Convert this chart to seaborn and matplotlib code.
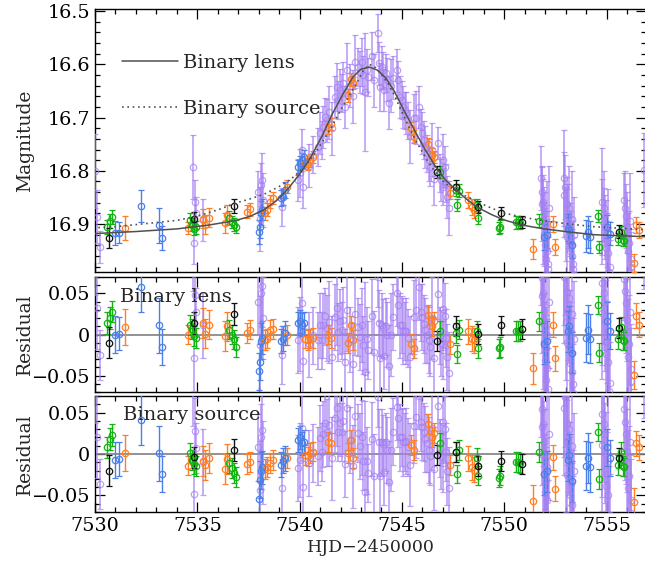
import matplotlib
matplotlib.use("Agg")
import matplotlib.pyplot as plt
import matplotlib.ticker as mticker
import seaborn as sns

# model curves
lens_t = [7529.9, 7532.0, 7534.02, 7535.53, 7536.79, 7537.55, 7538.26, 7538.87, 7539.47,
          7540.08, 7540.58, 7541.09, 7541.60, 7542.10, 7542.60, 7543.00, 7543.41, 7543.81,
          7544.22, 7544.62, 7545.12, 7545.63, 7546.13, 7546.64, 7547.14, 7547.65, 7548.15,
          7548.66, 7549.37, 7549.97, 7550.88, 7551.94, 7553.20, 7554.41, 7555.72, 7557.1]
lens_m = [16.918, 16.914, 16.909, 16.902, 16.894, 16.886, 16.873, 16.856, 16.832,
          16.802, 16.772, 16.735, 16.693, 16.657, 16.624, 16.609, 16.605, 16.611,
          16.626, 16.650, 16.688, 16.725, 16.760, 16.792, 16.818, 16.836, 16.853,
          16.868, 16.882, 16.892, 16.902, 16.909, 16.915, 16.920, 16.922, 16.924]

src_t = [7529.9, 7530.99, 7532.0, 7533.01, 7534.02, 7535.02, 7536.03, 7536.84, 7537.55,
         7538.26, 7539.07, 7539.57, 7540.08, 7540.38, 7540.79, 7541.19, 7541.60, 7542.00,
         7542.40, 7542.80, 7543.10, 7543.41, 7543.71, 7544.01, 7544.32, 7544.62, 7545.12,
         7545.63, 7546.23, 7546.64, 7547.04, 7547.45, 7547.85, 7548.66, 7549.37, 7549.97,
         7550.88, 7551.94, 7553.20, 7554.41, 7555.72, 7557.1]
src_m = [16.907, 16.905, 16.901, 16.897, 16.893, 16.885, 16.873, 16.861, 16.853,
         16.844, 16.828, 16.816, 16.798, 16.785, 16.765, 16.741, 16.715, 16.686,
         16.660, 16.635, 16.612, 16.600, 16.606, 16.620, 16.636, 16.657, 16.700,
         16.740, 16.780, 16.803, 16.821, 16.833, 16.842, 16.858, 16.870, 16.879,
         16.887, 16.894, 16.900, 16.905, 16.908, 16.911]

# black
blk_t = [7530.66, 7534.82, 7536.79, 7546.69, 7547.62, 7548.71, 7549.86, 7550.86, 7555.62]
blk_m = [16.926, 16.890, 16.866, 16.802, 16.830, 16.868, 16.879, 16.896, 16.914]
blk_e = [0.019, 0.013, 0.013, 0.012, 0.012, 0.012, 0.012, 0.012, 0.012]
blk_rl = [-0.010, 0.014, 0.025, -0.008, 0.010, 0.001, 0.011, 0.007, 0.008]
blk_rs = [-0.020, -0.004, 0.005, -0.001, 0.002, -0.014, -0.008, -0.012, -0.005]

# green
grn_t = [7530.61, 7530.71, 7530.81, 7534.62, 7534.72, 7534.82, 7534.92, 7536.53, 7536.69,
         7536.79, 7536.89, 7546.84, 7547.64, 7547.71, 7547.81, 7548.66, 7548.71, 7549.72,
         7549.81, 7550.57, 7550.67, 7550.79, 7551.69, 7554.59, 7554.62, 7555.56, 7555.72,
         7555.80, 7555.87]
grn_m = [16.905, 16.894, 16.887, 16.892, 16.901, 16.909, 16.906, 16.888, 16.896,
         16.901, 16.905, 16.802, 16.836, 16.864, 16.837, 16.864, 16.889, 16.907,
         16.905, 16.897, 16.896, 16.898, 16.894, 16.885, 16.943, 16.928, 16.915,
         16.930, 16.931]
grn_e = [0.013, 0.013, 0.013, 0.012, 0.012, 0.012, 0.012, 0.012, 0.012,
         0.012, 0.012, 0.012, 0.012, 0.011, 0.012, 0.012, 0.011, 0.011,
         0.012, 0.012, 0.012, 0.012, 0.012, 0.011, 0.012, 0.012, 0.012,
         0.012, 0.011]
grn_rl = [0.014, 0.020, 0.028, 0.012, 0.007, -0.002, -0.004, 0.006, 0.000,
          -0.006, -0.015, 0.004, 0.002, -0.024, 0.006, 0.004, -0.017, -0.017,
          -0.015, 0.004, 0.004, 0.004, 0.016, 0.036, -0.022, -0.006, 0.009,
          -0.007, -0.008]
grn_rs = [0.008, 0.018, 0.023, 0.001, -0.007, -0.012, -0.014, -0.011, -0.017,
          -0.023, -0.028, 0.013, 0.002, -0.024, 0.005, -0.005, -0.026, -0.029,
          -0.026, -0.010, -0.010, -0.011, 0.002, 0.027, -0.030, -0.013, 0.002,
          -0.015, -0.016]

# blue
blu_t = [7530.99, 7531.16, 7532.23, 7533.11, 7533.26, 7538.01, 7538.05, 7538.10, 7538.15,
         7539.07, 7539.17, 7539.27, 7539.92, 7540.02, 7540.12, 7540.19, 7551.94, 7552.09,
         7553.10, 7553.16, 7553.30, 7554.01, 7554.11, 7554.21, 7555.02, 7555.17]
blu_m = [16.917, 16.916, 16.866, 16.902, 16.926, 16.915, 16.905, 16.879, 16.873,
         16.851, 16.849, 16.836, 16.793, 16.786, 16.780, 16.774, 16.924, 16.920,
         16.907, 16.911, 16.939, 16.922, 16.915, 16.924, 16.905, 16.918]
blu_e = [0.022, 0.020, 0.030, 0.033, 0.022, 0.022, 0.022, 0.022, 0.020,
         0.015, 0.015, 0.015, 0.014, 0.014, 0.014, 0.014, 0.025, 0.025,
         0.025, 0.025, 0.025, 0.030, 0.030, 0.030, 0.022, 0.022]
blu_rl = [0.000, 0.001, 0.058, 0.011, -0.015, -0.045, -0.034, -0.008, -0.004,
          -0.008, -0.005, 0.002, 0.014, 0.016, 0.012, 0.014, -0.011, -0.008,
          0.004, 0.010, -0.022, -0.004, 0.006, -0.005, 0.017, 0.004]
blu_rs = [-0.007, -0.006, 0.041, 0.001, -0.024, -0.054, -0.031, -0.020, -0.016,
          -0.013, -0.008, -0.005, 0.017, 0.020, 0.013, 0.015, -0.024, -0.021,
          -0.007, -0.001, -0.033, -0.014, -0.005, -0.016, 0.008, -0.005]

# orange
org_t = [7531.49, 7534.52, 7535.28, 7535.38, 7535.58, 7536.34, 7536.44, 7537.45, 7537.55,
         7538.31, 7538.41, 7538.56, 7538.71, 7539.37, 7540.28, 7540.43, 7540.53, 7540.63,
         7541.39, 7541.54, 7542.34, 7542.49, 7542.59, 7545.42, 7545.57, 7546.28, 7546.48,
         7546.58, 7547.37, 7548.25, 7548.40, 7548.50, 7551.38, 7552.39, 7552.49, 7556.33,
         7556.43, 7556.58]
org_m = [16.907, 16.907, 16.890, 16.901, 16.888, 16.898, 16.883, 16.877, 16.872,
         16.880, 16.873, 16.858, 16.851, 16.830, 16.785, 16.787, 16.780, 16.774,
         16.718, 16.712, 16.658, 16.628, 16.635, 16.720, 16.736, 16.750, 16.770,
         16.774, 16.841, 16.855, 16.868, 16.873, 16.947, 16.900, 16.943, 16.973,
         16.902, 16.911]
org_e = [0.022, 0.011, 0.018, 0.018, 0.018, 0.018, 0.018, 0.012, 0.012,
         0.012, 0.012, 0.012, 0.012, 0.012, 0.012, 0.012, 0.012, 0.012,
         0.012, 0.012, 0.012, 0.012, 0.012, 0.012, 0.012, 0.012, 0.012,
         0.012, 0.012, 0.015, 0.015, 0.015, 0.019, 0.015, 0.015, 0.017,
         0.015, 0.015]
org_rl = [0.009, 0.000, 0.014, 0.001, 0.012, -0.002, 0.010, 0.002, 0.006,
          -0.007, -0.005, 0.006, 0.007, -0.001, -0.005, -0.007, -0.005, -0.004,
          0.000, -0.004, -0.010, 0.011, -0.007, -0.011, -0.017, 0.024, 0.010,
          0.016, -0.012, 0.004, -0.005, -0.007, -0.041, 0.012, -0.029, -0.049,
          0.023, 0.012]
org_rs = [0.001, -0.014, -0.008, -0.013, -0.005, -0.018, -0.006, -0.012, -0.010,
          -0.018, -0.016, -0.011, -0.007, -0.005, -0.001, -0.003, 0.001, 0.003,
          0.014, 0.013, 0.001, 0.017, -0.005, 0.011, 0.005, 0.036, 0.020,
          0.025, -0.013, -0.005, -0.016, -0.019, -0.057, -0.004, -0.042, -0.058,
          0.013, 0.008]

# purple (dense survey)
pur_t = [7530.02, 7530.10, 7530.23,
         7534.77, 7534.87, 7534.92, 7534.84, 7535.28,
         7537.95, 7538.10, 7538.15, 7538.20, 7538.05, 7539.15,
         7539.92, 7540.02, 7540.12, 7540.17, 7540.48, 7540.63,
         7540.91, 7541.00, 7541.08, 7541.15, 7541.25, 7541.35,
         7541.74, 7541.82, 7541.89, 7541.99, 7542.06, 7542.14, 7542.23, 7542.44, 7542.59,
         7542.87, 7542.95, 7543.05, 7543.10, 7543.20, 7543.28, 7543.35,
         7543.81, 7543.86, 7543.94, 7544.01, 7544.08, 7544.14, 7544.21, 7544.26, 7544.46,
         7544.77, 7544.82, 7544.92, 7545.00, 7545.07, 7545.15, 7545.22, 7545.30, 7545.57,
         7545.81, 7545.91, 7545.98, 7546.06, 7546.13, 7546.23, 7546.31, 7546.39,
         7546.74, 7546.84, 7546.92, 7546.99, 7547.09, 7547.16, 7547.22,
         7551.80, 7551.86, 7551.91, 7551.96, 7552.01, 7552.06, 7552.11, 7552.16, 7551.98,
         7552.90, 7552.98, 7553.05, 7553.12, 7553.20, 7553.25, 7553.32, 7553.38,
         7554.76, 7554.86, 7554.93, 7555.01, 7555.09, 7555.16,
         7555.87, 7555.94, 7556.02, 7556.09, 7556.17, 7556.83,
         7551.84, 7551.89, 7551.94, 7551.99, 7552.04, 7552.09, 7552.14, 7552.19,
         7552.93, 7553.00, 7553.08, 7553.15, 7553.22, 7553.29, 7553.35, 7553.42,
         7554.80, 7554.89, 7554.97, 7555.05, 7555.12,
         7555.90, 7555.98, 7556.05, 7556.13, 7556.20,
         7541.45, 7542.70, 7543.55, 7543.65, 7544.35, 7544.55, 7545.40,
         7545.70, 7546.45, 7546.55, 7547.00, 7547.28, 7541.60, 7542.32]
pur_m = [16.800, 16.886, 16.943,
         16.793, 16.858, 16.879, 16.935, 16.892,
         16.840, 16.826, 16.817, 16.855, 16.890, 16.868,
         16.817, 16.804, 16.761, 16.830, 16.790, 16.770,
         16.755, 16.729, 16.742, 16.718, 16.699, 16.705,
         16.661, 16.643, 16.667, 16.648, 16.654, 16.635, 16.680, 16.640, 16.660,
         16.605, 16.614, 16.596, 16.620, 16.652, 16.611, 16.624,
         16.541, 16.598, 16.643, 16.605, 16.611, 16.648, 16.616, 16.629, 16.640,
         16.611, 16.629, 16.661, 16.667, 16.680, 16.686, 16.691, 16.705, 16.700,
         16.680, 16.718, 16.729, 16.742, 16.755, 16.767, 16.780, 16.793,
         16.748, 16.804, 16.817, 16.830, 16.793, 16.823, 16.849,
         16.813, 16.840, 16.858, 16.880, 16.900, 16.925, 16.950, 16.975, 16.995,
         16.813, 16.830, 16.862, 16.885, 16.910, 16.935, 16.960, 16.985,
         16.858, 16.882, 16.905, 16.930, 16.955, 16.980,
         16.855, 16.885, 16.905, 16.935, 16.965, 16.798,
         16.862, 16.895, 16.918, 16.940, 16.965, 16.910, 16.985, 16.870,
         16.845, 16.900, 16.925, 16.870, 16.950, 16.890, 16.975, 16.920,
         16.895, 16.870, 16.945, 16.915, 16.990,
         16.870, 16.920, 16.950, 16.895, 16.980,
         16.690, 16.595, 16.585, 16.630, 16.672, 16.625, 16.735,
         16.700, 16.760, 16.815, 16.780, 16.870, 16.720, 16.610]
pur_e = [0.07, 0.05, 0.03,
         0.06, 0.04, 0.03, 0.04, 0.04,
         0.04, 0.04, 0.05, 0.05, 0.06, 0.035,
         0.04, 0.045, 0.04, 0.04, 0.04, 0.035,
         0.035, 0.04, 0.035, 0.04, 0.035, 0.04,
         0.04, 0.045, 0.035, 0.04, 0.035, 0.04, 0.04, 0.04, 0.05,
         0.035, 0.04, 0.045, 0.035, 0.11, 0.04, 0.035,
         0.036, 0.04, 0.045, 0.04, 0.035, 0.04, 0.035, 0.04, 0.05,
         0.04, 0.035, 0.04, 0.035, 0.04, 0.035, 0.04, 0.035, 0.045,
         0.04, 0.035, 0.04, 0.035, 0.04, 0.035, 0.04, 0.035,
         0.03, 0.035, 0.04, 0.035, 0.04, 0.035, 0.04,
         0.06, 0.05, 0.05, 0.05, 0.06, 0.05, 0.06, 0.05, 0.06,
         0.09, 0.06, 0.05, 0.06, 0.05, 0.06, 0.05, 0.06,
         0.10, 0.05, 0.06, 0.05, 0.06, 0.05,
         0.05, 0.06, 0.05, 0.06, 0.05, 0.07,
         0.07, 0.08, 0.06, 0.07, 0.08, 0.09, 0.07, 0.08,
         0.08, 0.07, 0.09, 0.08, 0.07, 0.09, 0.08, 0.07,
         0.08, 0.07, 0.09, 0.08, 0.07,
         0.07, 0.08, 0.07, 0.09, 0.07,
         0.05, 0.05, 0.045, 0.05, 0.05, 0.04, 0.05,
         0.05, 0.05, 0.05, 0.05, 0.05, 0.05, 0.05]
pur_rl = [0.118, 0.032, -0.025,
          0.113, 0.048, 0.027, -0.029, 0.011,
          0.039, 0.050, 0.059, 0.020, -0.013, -0.025,
          -0.007, 0.001, 0.038, -0.032, -0.012, -0.001,
          -0.007, 0.011, -0.007, 0.011, 0.022, 0.008,
          0.021, 0.032, 0.003, 0.016, 0.005, 0.018, -0.033, -0.006, -0.036,
          0.009, -0.003, 0.012, -0.013, -0.046, -0.006, -0.019,
          0.070, 0.014, -0.029, 0.011, 0.008, -0.026, 0.010, 0.000, 0.000,
          0.050, 0.036, 0.011, 0.012, 0.004, 0.004, 0.004, -0.004, 0.021,
          0.058, 0.027, 0.021, 0.013, 0.005, 0.000, -0.007, -0.015,
          0.049, -0.001, -0.010, -0.019, 0.023, -0.004, -0.027,
          0.096, 0.069, 0.051, 0.029, 0.009, -0.016, -0.041, -0.066, -0.086,
          0.101, 0.084, 0.052, 0.029, 0.004, -0.021, -0.046, -0.071,
          0.063, 0.039, 0.016, -0.009, -0.034, -0.059,
          0.068, 0.038, 0.018, -0.012, -0.042, 0.126,
          0.047, 0.014, -0.009, -0.031, -0.056, -0.001, -0.076, 0.039,
          0.070, 0.015, -0.010, 0.045, -0.035, 0.025, -0.060, -0.005,
          0.026, 0.051, -0.024, 0.006, -0.069,
          0.053, 0.003, -0.027, 0.028, -0.057,
          0.015, 0.025, 0.022, -0.021, -0.038, 0.021, -0.027,
          0.030, 0.020, -0.029, 0.031, -0.047, -0.027, 0.030]
pur_rs = [0.107, 0.021, -0.036,
          0.094, 0.028, 0.007, -0.048, -0.010,
          0.008, 0.020, 0.029, -0.010, -0.044, -0.041,
          -0.017, -0.007, 0.031, -0.040, -0.011, 0.001,
          -0.002, 0.019, 0.003, 0.024, 0.038, 0.026,
          0.043, 0.055, 0.026, 0.038, 0.026, 0.040, -0.012, 0.017, -0.015,
          0.025, 0.010, 0.020, -0.008, -0.046, -0.008, -0.023,
          0.069, 0.014, -0.027, 0.014, 0.012, -0.022, 0.014, 0.005, 0.005,
          0.057, 0.043, 0.020, 0.021, 0.014, 0.015, 0.016, 0.008, 0.034,
          0.070, 0.039, 0.033, 0.026, 0.018, 0.013, 0.005, -0.003,
          0.058, 0.007, -0.002, -0.011, 0.030, 0.003, -0.021,
          0.081, 0.054, 0.036, 0.014, -0.006, -0.031, -0.056, -0.081, -0.101,
          0.086, 0.069, 0.037, 0.014, -0.011, -0.036, -0.061, -0.086,
          0.048, 0.024, 0.001, -0.024, -0.049, -0.074,
          0.054, 0.024, 0.004, -0.026, -0.056, 0.113,
          0.032, -0.001, -0.024, -0.046, -0.071, -0.016, -0.091, 0.024,
          0.055, 0.000, -0.025, 0.030, -0.050, 0.010, -0.075, -0.020,
          0.011, 0.036, -0.039, -0.009, -0.084,
          0.039, -0.011, -0.041, 0.014, -0.071,
          0.035, 0.046, 0.018, -0.026, -0.034, 0.027, -0.013,
          0.045, 0.031, -0.018, 0.039, -0.041, -0.005, 0.055]

sns.set_style("ticks")
plt.rcParams['font.family'] = ['DejaVu Serif']
plt.rcParams['axes.linewidth'] = 1.0
fs_tick = 13.8
fs_text = 14
fs_ylab = 13.5

fig = plt.figure(figsize=(6.45, 5.65), dpi=100)
L, W = 0.1473, 0.8550
ax1 = fig.add_axes([L, 0.5186, W, 0.4655])
ax2 = fig.add_axes([L, 0.3062, W, 0.2035])
ax3 = fig.add_axes([L, 0.0938, W, 0.2053])

datasets = [
    (pur_t, pur_m, pur_e, pur_rl, pur_rs, '#a480f2', 0.72, 1.25),
    (org_t, org_m, org_e, org_rl, org_rs, '#ff7f26', 1.0, 1.0),
    (blu_t, blu_m, blu_e, blu_rl, blu_rs, '#4c80e8', 1.0, 1.0),
    (grn_t, grn_m, grn_e, grn_rl, grn_rs, '#13b313', 1.0, 1.0),
    (blk_t, blk_m, blk_e, blk_rl, blk_rs, '#111111', 1.0, 1.0),
]

for t, m, e, rl, rs, c, a, lw in datasets:
    for ax, y in ((ax1, m), (ax2, rl), (ax3, rs)):
        ax.errorbar(t, y, yerr=e, fmt='o', ms=4.6, mfc='none', mec=c, mew=0.9,
                    ecolor=c, elinewidth=lw, capsize=2.2, capthick=lw, alpha=a, zorder=3)

sns.lineplot(x=lens_t, y=lens_m, ax=ax1, color='#505050', lw=1.1, sort=False,
             estimator=None, label='Binary lens', zorder=4)
sns.lineplot(x=src_t, y=src_m, ax=ax1, color='#505050', lw=1.2, sort=False,
             estimator=None, label='Binary source', zorder=4)
ax1.lines[-1].set_dashes((1, 2.2))
ax1.legend(loc='upper left', bbox_to_anchor=(0.049, 0.829), frameon=False,
           borderpad=0, borderaxespad=0, handlelength=2.9, handletextpad=0.26,
           labelspacing=1.44, fontsize=fs_text)

for ax in (ax2, ax3):
    ax.axhline(0, color='#808080', lw=1.2, zorder=1)
    ax.set_ylim(-0.07, 0.07)
    ax.yaxis.set_major_locator(mticker.FixedLocator([-0.05, 0, 0.05]))
    ax.yaxis.set_minor_locator(mticker.MultipleLocator(0.01))
    ax.yaxis.set_major_formatter(mticker.FuncFormatter(
        lambda v, p: '0' if abs(v) < 1e-9 else f'{v:.2f}'.replace('-', '\u2212')))
    ax.set_ylabel('Residual', fontsize=fs_ylab)

ax2.text(0.045, 0.83, 'Binary lens', transform=ax2.transAxes, va='center', fontsize=fs_text)
ax3.text(0.051, 0.84, 'Binary source', transform=ax3.transAxes, va='center', fontsize=fs_text)

ax1.set_ylim(16.99, 16.496)
ax1.yaxis.set_major_locator(mticker.MultipleLocator(0.1))
ax1.yaxis.set_minor_locator(mticker.MultipleLocator(0.02))
ax1.yaxis.set_major_formatter(mticker.FormatStrFormatter('%.1f'))
ax1.set_ylabel('Magnitude', fontsize=fs_ylab)

for ax in (ax1, ax2, ax3):
    ax.set_xlim(7530, 7556.95)
    ax.xaxis.set_major_locator(mticker.MultipleLocator(5))
    ax.xaxis.set_minor_locator(mticker.MultipleLocator(1))
    ax.xaxis.set_major_formatter(mticker.FormatStrFormatter('%d'))
    ax.tick_params(which='both', direction='in', top=True, right=True,
                   labelsize=fs_tick, width=0.9, colors='black')
    ax.tick_params(which='major', length=7.5)
    ax.tick_params(which='minor', length=3.8)
    ax.yaxis.set_label_coords(-0.111, 0.5)
    for s in ax.spines.values():
        s.set_color('black')

ax1.tick_params(labelbottom=False)
ax2.tick_params(labelbottom=False)
ax3.set_xlabel('HJD\u22122450000', fontsize=12.5, labelpad=3)

fig.savefig('out.png', dpi=100)
